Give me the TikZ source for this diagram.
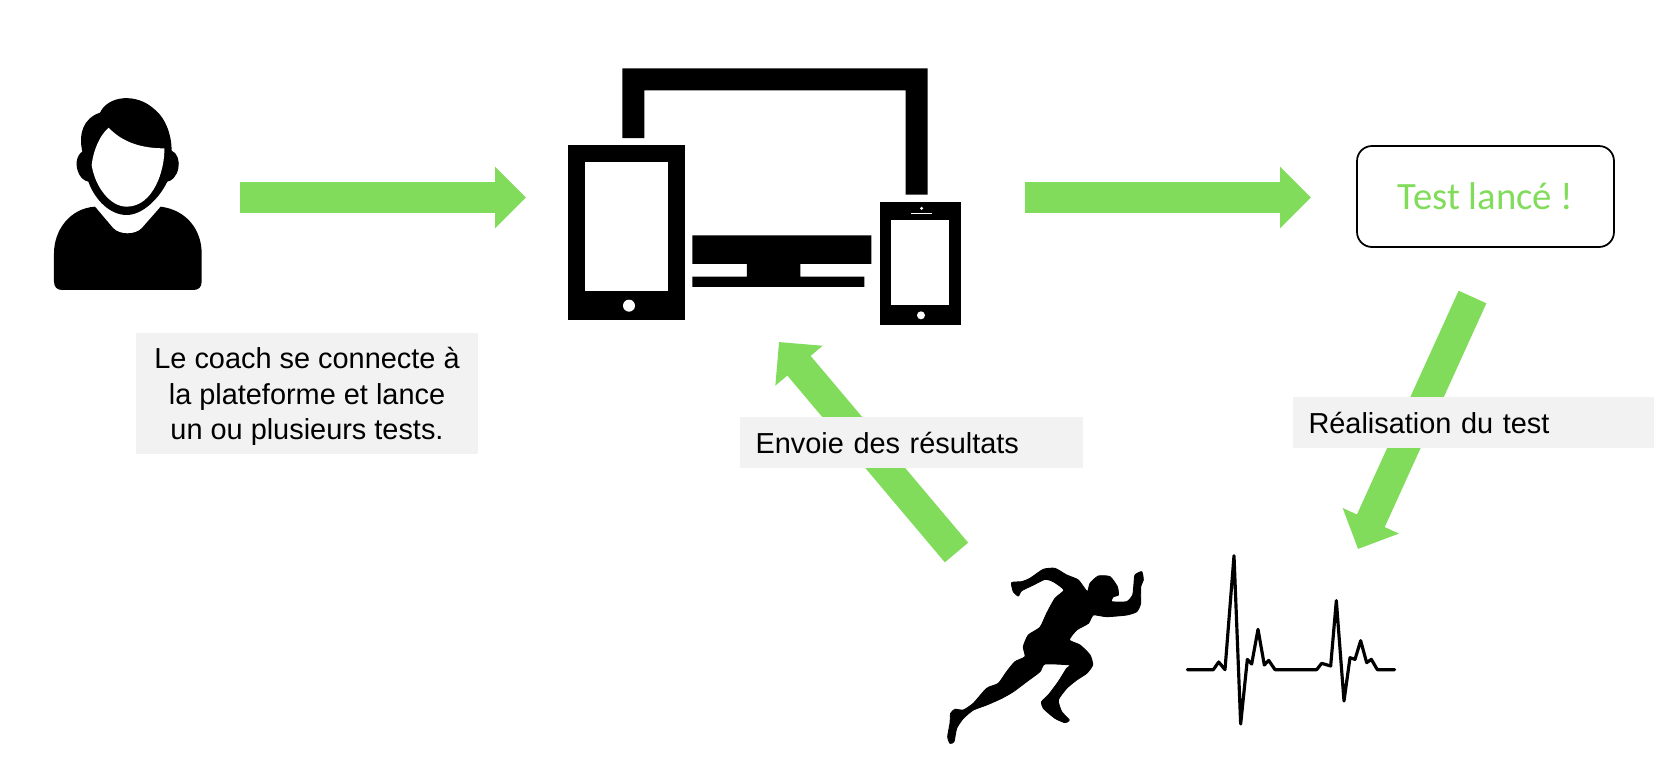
\documentclass[tikz,border=0pt]{standalone}
\usepackage{fontspec}
\setmainfont{Liberation Sans}
\newfontfamily\carlitofont{Carlito}
\usetikzlibrary{arrows.meta}
\definecolor{flowgreen}{RGB}{128,220,90}
\definecolor{notegrey}{RGB}{242,242,242}
\begin{document}
\begin{tikzpicture}[
    x=0.02cm, y=-0.02cm,
    zoomed/.style={x=0.0066667cm, y=-0.0066667cm},
    flow/.style={line width=0.61cm, flowgreen, -{Triangle[length=0.62cm, width=1.2cm]}},
    note/.style={fill=notegrey, inner sep=0pt, font=\fontsize{16.45}{20.2}\selectfont},
    leftnote/.style={note, minimum height=1.02cm, align=left, text height=16.4pt, text depth=3.5pt},
    icon/.style={fill=black},
    hole/.style={fill=white},
    started/.style={draw=black, line width=1pt, rounded corners=8.5pt, minimum width=5.14cm,
        minimum height=2.02cm, text=flowgreen, font=\carlitofont\fontsize{22}{26}\selectfont},
]
\useasboundingbox (0,0) rectangle (1654,758);

% Free ends of the block arrows
\coordinate (coachEnd) at (240,197.5);
\coordinate (devicesIn) at (526,197.5);
\coordinate (devicesOut) at (1025,197.5);
\coordinate (startedIn) at (1311,197.5);
\coordinate (startedOut) at (1472.5,297);
\coordinate (ecgIn) at (1358,549);
\coordinate (runnerOut) at (956.5,552.5);
\coordinate (devicesBack) at (779,342);

% Block arrows
\draw[flow] (coachEnd) -- (devicesIn);
\draw[flow] (devicesOut) -- (startedIn);
\draw[flow] (startedOut) -- (ecgIn);
\draw[flow] (runnerOut) -- (devicesBack);

% Labels
\node[note, minimum width=6.84cm, minimum height=2.42cm, align=center] (coachnote) at (307,393.5)
    {\rule{0pt}{15.6pt}Le coach se connecte à\\la plateforme et lance\\un ou plusieurs tests.};
\node[leftnote, minimum width=6.86cm, text width=6.24cm] (sendnote) at (911.5,442.5) {Envoie des résultats};
\node[leftnote, minimum width=7.22cm, text width=6.6cm] (testnote) at (1473.5,422.5) {Réalisation du test};
\node[started] (startedbox) at (1485.5,196.5) {Test lancé !};

% --- COACH ---
\begin{scope}[shift={(30,80)}, zoomed]
\fill[icon] (195,380) -- (250,445) .. controls (270,465) and (315,465) .. (335,445) -- (392,380)
    .. controls (470,390) and (515,450) .. (515,520) -- (515,605) .. controls (515,622) and (505,630) .. (490,630)
    -- (97,630) .. controls (82,630) and (72,622) .. (72,605) -- (72,520)
    .. controls (72,450) and (120,385) .. (195,380) -- cycle;
% Hair and ears
\fill[icon] (157,215) .. controls (145,160) and (160,115) .. (210,98) .. controls (235,45) and (320,40) .. (370,85)
    .. controls (410,115) and (425,170) .. (425,212) .. controls (442,218) and (450,245) .. (445,265)
    .. controls (440,290) and (425,303) .. (412,305) .. controls (385,360) and (335,405) .. (290,405)
    .. controls (240,405) and (195,360) .. (175,305) .. controls (150,300) and (138,270) .. (140,245)
    .. controls (142,230) and (150,218) .. (157,215) -- cycle;
% Face
\fill[hole] (236,143) .. controls (280,190) and (340,205) .. (403,205) .. controls (405,270) and (370,380) .. (290,380)
    .. controls (240,380) and (195,320) .. (185,255) .. controls (190,210) and (210,165) .. (236,143) -- cycle;
\end{scope}

% --- DEVICES ---
\begin{scope}[shift={(550,50)}, zoomed]
% Monitor
\fill[icon] (217,55) -- (1133,55) -- (1133,434) -- (1067,434) -- (1067,121) -- (283,121) -- (283,264) -- (217,264) -- cycle;
\fill[icon] (427,556) -- (964,556) -- (964,642) -- (751,642) -- (751,680) -- (943,680) -- (943,711)
    -- (427,711) -- (427,680) -- (591,680) -- (591,642) -- (427,642) -- cycle;
% Tablet
\fill[icon] (54,286) rectangle (405,811);
\fill[hole] (105,336) rectangle (354,723);
\fill[hole] (237,767) circle (18);
% Phone
\fill[icon] (989,455) rectangle (1233,825);
\fill[hole] (1024,511) rectangle (1197,765);
\fill[hole] (1113,796) circle (12);
\fill[hole] (1115,475) circle (5);
\fill[hole] (1084,489) rectangle (1147,493);
\end{scope}

% --- RUNNER ---
\begin{scope}[shift={(930,540)}, zoomed]
\filldraw[icon, draw=black, line width=0.5pt, line join=round] plot[smooth cycle, tension=0.35] coordinates {
    (245,128) (275,125) (300,115) (340,88) (375,85) (410,105) (445,120) (472,155) (480,130) (505,108)
    (540,110) (562,140) (565,165) (550,170) (545,185) (590,185) (608,165) (612,130) (615,105) (635,95)
    (640,120) (632,140) (632,190) (620,215) (590,225) (530,230) (490,225) (475,250) (440,270) (418,300)
    (450,315) (480,345) (488,375) (470,400) (440,420) (410,445) (385,480) (395,515) (418,540) (405,548)
    (375,535) (340,505) (335,485) (355,465) (385,425) (410,385) (420,375) (345,372) (330,395) (290,425)
    (250,455) (215,475) (170,495) (130,510) (100,535) (80,565) (72,605) (60,610) (53,590) (60,550)
    (62,520) (75,508) (100,510) (130,490) (170,445) (205,430) (230,395) (255,365) (285,350) (280,320)
    (295,285) (330,262) (350,220) (375,175) (402,150) (370,125) (345,118) (310,135) (275,152) (265,168)
    (250,155)};
\end{scope}

% --- HEART TRACE ---
\begin{scope}[shift={(1170,540)}, zoomed]
\draw[line width=1.8pt, line join=round, line cap=round] (52,389) -- (130,389) -- (146,366) -- (165,389) -- (192,47)
    -- (212,552) -- (232,358) -- (245,372) -- (264,268) -- (283,375) -- (296,361) -- (315,389) -- (440,389)
    -- (455,370) -- (482,378) -- (499,182) -- (522,483) -- (540,353) -- (555,358) -- (572,302) -- (590,368)
    -- (604,358) -- (622,389) -- (674,389);
\end{scope}

\end{tikzpicture}
\end{document}
